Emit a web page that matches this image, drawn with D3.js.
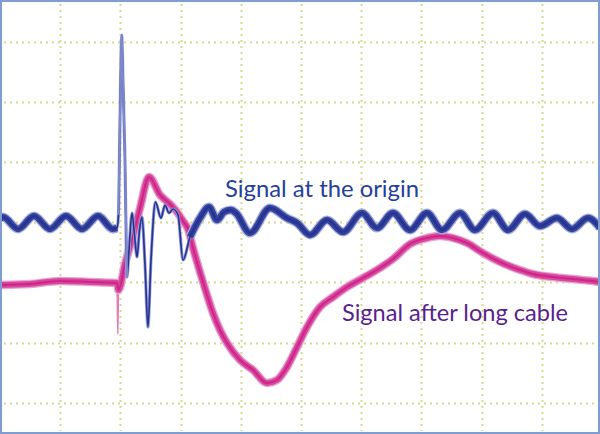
<!DOCTYPE html>
<html><head><meta charset="utf-8">
<script src="https://cdn.jsdelivr.net/npm/d3@7"></script>
<style>html,body{margin:0;padding:0;background:#fff;}svg{display:block;}</style>
</head><body>
<svg id="chart" width="600" height="434"></svg>
<script>
// time in divisions, amplitude in divisions
const gridTimes = [1,2,3,4,5,6,7,8,9];
const gridLevels = [-3,-2,-1,0,1,2,3];

const originTime = [0,0.05,0.30,0.565,0.83,1.096,1.362,1.628,1.877,1.944,1.968,1.993,2.022,2.043,2.076,2.110,2.143,2.193,2.234,2.276,2.317,2.359,2.409,2.458,2.508,2.583,2.674,2.741,2.807,2.874,2.957,3.040,3.156,3.322,3.472,3.605,3.721,3.837,3.920,4.153,4.485,4.767,4.934,5.150,5.432,5.698,6.013,6.262,6.528,6.811,7.093,7.342,7.641,7.890,8.189,8.439,8.721,8.970,9.252,9.502,9.767,9.967];
const originValue = [0.055,0.088,-0.111,0.105,-0.111,0.105,-0.111,0.105,-0.111,-0.095,0.121,1.701,3.114,2.366,1.036,-0.909,-0.460,0.155,-0.211,-0.577,-0.128,0.088,-0.710,-1.741,-0.627,0.337,0.071,0.288,0.155,0.221,0.121,-0.627,-0.244,0.071,0.254,0.038,0.171,0.204,0.155,-0.178,0.238,0.071,-0.012,-0.211,0.038,-0.161,0.155,-0.095,0.155,-0.128,0.155,-0.128,0.155,-0.128,0.155,-0.128,0.138,-0.062,0.071,-0.111,0.071,-0.095];

const cableTime = [0,0.498,0.997,1.495,1.944,1.957,1.968,2.076,2.209,2.326,2.475,2.658,2.824,2.940,3.040,3.123,3.206,3.372,3.538,3.654,3.771,3.987,4.203,4.435,4.601,4.767,4.934,5.100,5.316,5.532,5.764,6.030,6.312,6.528,6.811,7.093,7.309,7.525,7.757,8.023,8.306,8.638,8.854,9.186,9.518,9.850,9.967];
const cableValue = [-1.042,-1.026,-0.976,-0.992,-1.009,-1.856,-1.125,-0.693,-0.228,0.238,0.753,0.454,0.304,0.171,0.022,-0.111,-0.427,-0.992,-1.508,-1.791,-2.007,-2.290,-2.456,-2.672,-2.622,-2.406,-2.074,-1.741,-1.408,-1.242,-1.076,-0.926,-0.760,-0.610,-0.361,-0.261,-0.228,-0.261,-0.344,-0.510,-0.660,-0.793,-0.860,-0.909,-0.943,-0.976,-0.992];

const labels = ["Signal at the origin", "Signal after long cable"];

const W = 600, H = 434;
const svg = d3.select("#chart");
const x = d3.scaleLinear().domain([0,10]).range([0,602]);
const y = d3.scaleLinear().domain([-4,4]).range([222.3+4*60.15, 222.3-4*60.15]);

svg.append("rect").attr("width",W).attr("height",H).attr("fill","#fff");

// graticule
const g = svg.append("g");
g.selectAll("line.v").data(gridTimes).join("line")
  .attr("x1",d=>Math.round(x(d))+0.5).attr("x2",d=>Math.round(x(d))+0.5)
  .attr("y1",4).attr("y2",H-3)
  .attr("stroke","#D5D98C").attr("stroke-width",2).attr("stroke-dasharray","2,4");
g.selectAll("line.h").data(gridLevels).join("line")
  .attr("y1",d=>Math.round(y(d))+0.5).attr("y2",d=>Math.round(y(d))+0.5)
  .attr("x1",4).attr("x2",W-3)
  .attr("stroke","#D5D98C").attr("stroke-width",2).attr("stroke-dasharray","2,4");

const origin = originTime.map((t,i)=>({t, v:originValue[i]}));
const cable = cableTime.map((t,i)=>({t, v:cableValue[i]}));

const line = d3.line().x(d=>x(d.t)).y(d=>y(d.v)).curve(d3.curveMonotoneX);

// cable signal
const cableBand = cable.filter(d=>!(d.t>1.95 && d.t<1.96));
svg.append("path").attr("d",line(cable)).attr("fill","none")
  .attr("stroke","#E07DBB").attr("stroke-width",1.6);
svg.append("path").attr("d",line(cableBand)).attr("fill","none")
  .attr("stroke","#E8A6D0").attr("stroke-width",8.5).attr("stroke-linejoin","round");
svg.append("path").attr("d",line(cableBand)).attr("fill","none")
  .attr("stroke","#D6489E").attr("stroke-width",6).attr("stroke-linejoin","round");
svg.append("path").attr("d",line(cableBand)).attr("fill","none")
  .attr("stroke","#D2228A").attr("stroke-width",2);

// origin signal: thin trace first, then noisy band on slow parts
svg.append("path").attr("d",line(origin)).attr("fill","none")
  .attr("stroke","#98A0DA").attr("stroke-width",3.2).attr("stroke-linejoin","round");
svg.append("path").attr("d",line(origin)).attr("fill","none")
  .attr("stroke","#27358F").attr("stroke-width",1.7).attr("stroke-linejoin","round");
// fast spike edges show faint on the scope
const spike = origin.filter(d=>d.t>=1.96 && d.t<=2.11);
svg.append("path").attr("d",line(spike)).attr("fill","none")
  .attr("stroke","#7D87CC").attr("stroke-width",2.2).attr("stroke-linejoin","round");
const bandA = origin.filter(d=>d.t<=1.945);
const bandC = origin.filter(d=>d.t>=3.15);
[bandA, bandC].forEach(seg=>{
  svg.append("path").attr("d",line(seg)).attr("fill","none")
    .attr("stroke","#A7AEDD").attr("stroke-width",9).attr("stroke-linejoin","round");
  svg.append("path").attr("d",line(seg)).attr("fill","none")
    .attr("stroke","#3444A0").attr("stroke-width",6.5).attr("stroke-linejoin","round");
  svg.append("path").attr("d",line(seg)).attr("fill","none")
    .attr("stroke","#26348F").attr("stroke-width",2.5).attr("stroke-linejoin","round");
});

// labels
svg.append("text").attr("x",225).attr("y",197).text(labels[0])
  .attr("font-family","Lato, 'Open Sans', sans-serif").attr("font-size",24)
  .attr("fill","#25409A").attr("textLength",194).attr("lengthAdjust","spacingAndGlyphs");
svg.append("text").attr("x",342).attr("y",321).text(labels[1])
  .attr("font-family","Lato, 'Open Sans', sans-serif").attr("font-size",24)
  .attr("fill","#5A1F8E").attr("textLength",226).attr("lengthAdjust","spacingAndGlyphs");

// frame
svg.append("rect").attr("x",1).attr("y",1).attr("width",W-2).attr("height",H-2)
  .attr("fill","none").attr("stroke","#7F9DD0").attr("stroke-width",2);
</script>
</body></html>
